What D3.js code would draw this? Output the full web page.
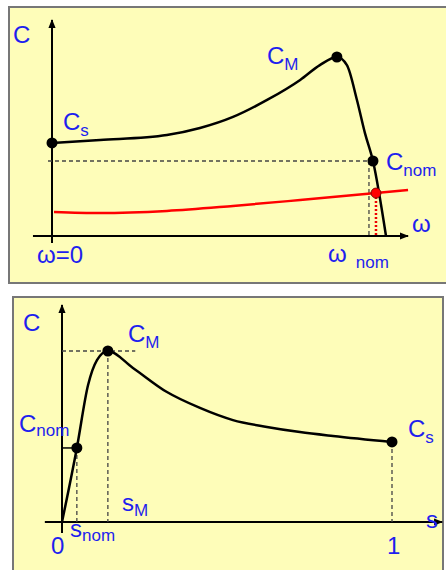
<!DOCTYPE html>
<html>
<head>
<meta charset="utf-8">
<script src="https://cdn.jsdelivr.net/npm/d3@7"></script>
<style>
  body { margin: 0; background: #fff; }
  text { font-family: "Liberation Sans", Arial, sans-serif; fill: #1f1fee; }
</style>
</head>
<body>
<svg id="chart" width="446" height="570"></svg>
<script>
// top panel: torque vs speed (omega), C_M = 100
const topOmega = [0, 14.4, 34.4, 44.3, 54.2, 64.4, 74.3, 80.2, 85.3, 88.3, 91.3, 93.7, 96.1, 100];
const topTorque = [52, 53.6, 56.4, 60.3, 66.5, 76, 87.2, 95.5, 100, 95.5, 76, 57.5, 41.9, 0];
const loadOmega = [0.6, 14.4, 34.4, 54.2, 74.3, 97, 106.6];
const loadTorque = [13.4, 12.8, 14, 16.8, 20.1, 24, 25.7];
const topPoints = { Cs: [0, 52], CM: [85.3, 100], Cnom: [96.1, 41.9], op: [97, 24] };

// bottom panel: torque vs slip s
const slip = [0, 0.045, 0.079, 0.106, 0.139, 0.215, 0.318, 0.418, 0.518, 0.621, 0.721, 0.821, 1];
const slipTorque = [0, 43.3, 80.1, 94.7, 100, 90.1, 76, 66.7, 59.6, 55.6, 52.6, 50.3, 46.8];
const botPoints = { Cnom: [0.045, 43.3], CM: [0.139, 100], Cs: [1, 46.8] };

const svg = d3.select("#chart");

const defs = svg.append("defs");
defs.append("marker")
  .attr("id", "arrow")
  .attr("viewBox", "0 0 10 10")
  .attr("refX", 9).attr("refY", 5)
  .attr("markerWidth", 4.5).attr("markerHeight", 4.5)
  .attr("markerUnits", "strokeWidth")
  .attr("orient", "auto")
  .append("path").attr("d", "M0,1 L10,5 L0,9 Z").attr("fill", "#000");

function panel(x, y, w, h) {
  svg.append("rect")
    .attr("x", x).attr("y", y).attr("width", w).attr("height", h)
    .attr("fill", "#fefdb9")
    .attr("stroke", "#777").attr("stroke-width", 2);
}

function axisLine(x1, y1, x2, y2) {
  svg.append("line")
    .attr("x1", x1).attr("y1", y1).attr("x2", x2).attr("y2", y2)
    .attr("stroke", "#000").attr("stroke-width", 2)
    .attr("marker-end", "url(#arrow)");
}

function dashed(x1, y1, x2, y2, color, width, dash) {
  svg.append("line")
    .attr("x1", x1).attr("y1", y1).attr("x2", x2).attr("y2", y2)
    .attr("stroke", color || "#444").attr("stroke-width", width || 1.3)
    .attr("stroke-dasharray", dash || "4,3");
}

function dot(x, y, color, r) {
  svg.append("circle")
    .attr("cx", x).attr("cy", y).attr("r", r || 5.5)
    .attr("fill", color || "#000")
    .attr("stroke", color ? "#600" : "none").attr("stroke-width", 0.8);
}

function label(x, y, main, sub, subDx, subDy) {
  const t = svg.append("text").attr("x", x).attr("y", y).attr("font-size", 24);
  t.append("tspan").text(main);
  if (sub) {
    t.append("tspan").attr("font-size", 17).attr("dy", subDy || 6).attr("dx", subDx || 0).text(sub);
  }
  return t;
}

// ---------- top panel ----------
panel(9, 7, 445, 276);

const xT = d3.scaleLinear().domain([0, 100]).range([52, 386]);
const yT = d3.scaleLinear().domain([0, 100]).range([236, 57]);

axisLine(xT(0), yT(-3.9), xT(0), yT(120.7));
axisLine(xT(-5.7), yT(0), xT(106.6), yT(0));

// reference lines
dashed(xT(-1.2), yT(topPoints.Cnom[1]), xT(topPoints.Cnom[0]), yT(topPoints.Cnom[1]));
dashed(xT(94.9), yT(topPoints.Cnom[1]), xT(94.9), yT(0));
dashed(xT(topPoints.op[0]), yT(topPoints.op[1]), xT(topPoints.op[0]), yT(0), "#e00", 2.5, "2,2");

const lineT = d3.line().x(d => xT(d[0])).y(d => yT(d[1])).curve(d3.curveMonotoneX);

svg.append("path")
  .datum(d3.zip(loadOmega, loadTorque))
  .attr("d", lineT)
  .attr("fill", "none").attr("stroke", "#f00").attr("stroke-width", 2.5);

svg.append("path")
  .datum(d3.zip(topOmega, topTorque))
  .attr("d", lineT)
  .attr("fill", "none").attr("stroke", "#000").attr("stroke-width", 2.5);

dot(xT(topPoints.Cs[0]), yT(topPoints.Cs[1]));
dot(xT(topPoints.CM[0]), yT(topPoints.CM[1]));
dot(xT(topPoints.Cnom[0]), yT(topPoints.Cnom[1]));
dot(xT(topPoints.op[0]), yT(topPoints.op[1]), "#f00", 5);

label(13, 43, "C");
label(xT(0) + 11, yT(topPoints.Cs[1]) - 13, "C", "s");
label(xT(topPoints.CM[0]) - 70, yT(topPoints.CM[1]) + 7, "C", "M");
label(xT(topPoints.Cnom[0]) + 13, yT(topPoints.Cnom[1]) + 9, "C", "nom");
label(412, yT(0) - 4, "ω");
label(37, 263, "ω=0");
label(328, 262, "ω", "nom", 9);

// ---------- bottom panel ----------
panel(13, 297, 430, 285);

const xB = d3.scaleLinear().domain([0, 1]).range([62, 392]);
const yB = d3.scaleLinear().domain([0, 100]).range([522, 351]);

axisLine(xB(0), yB(-6.4), xB(0), yB(126.9));
axisLine(xB(-0.052), yB(0), xB(1.152), yB(0));

dashed(xB(0), yB(100), xB(0.222), yB(100));
dashed(xB(botPoints.Cnom[0]), yB(botPoints.Cnom[1]), xB(botPoints.Cnom[0]), yB(0));
dashed(xB(botPoints.CM[0]), yB(botPoints.CM[1]), xB(botPoints.CM[0]), yB(0));
dashed(xB(botPoints.Cs[0]), yB(botPoints.Cs[1]), xB(botPoints.Cs[0]), yB(0));
svg.append("line")
  .attr("x1", xB(0)).attr("y1", yB(botPoints.Cnom[1]))
  .attr("x2", xB(botPoints.Cnom[0])).attr("y2", yB(botPoints.Cnom[1]))
  .attr("stroke", "#000").attr("stroke-width", 1.5);

const lineB = d3.line().x(d => xB(d[0])).y(d => yB(d[1])).curve(d3.curveMonotoneX);
svg.append("path")
  .datum(d3.zip(slip, slipTorque))
  .attr("d", lineB)
  .attr("fill", "none").attr("stroke", "#000").attr("stroke-width", 2.5);

dot(xB(botPoints.Cnom[0]), yB(botPoints.Cnom[1]));
dot(xB(botPoints.CM[0]), yB(botPoints.CM[1]));
dot(xB(botPoints.Cs[0]), yB(botPoints.Cs[1]));

label(23, 331, "C");
label(128, 342, "C", "M");
label(19, 432, "C", "nom", 0, 4);
label(408, 437, "C", "s");
label(122, 511, "s", "M", 0, 5);
label(70, 537, "s", "nom", 0, 4);
label(51, 554, "0");
label(387, 554, "1");
label(426, 528, "s");
</script>
</body>
</html>
